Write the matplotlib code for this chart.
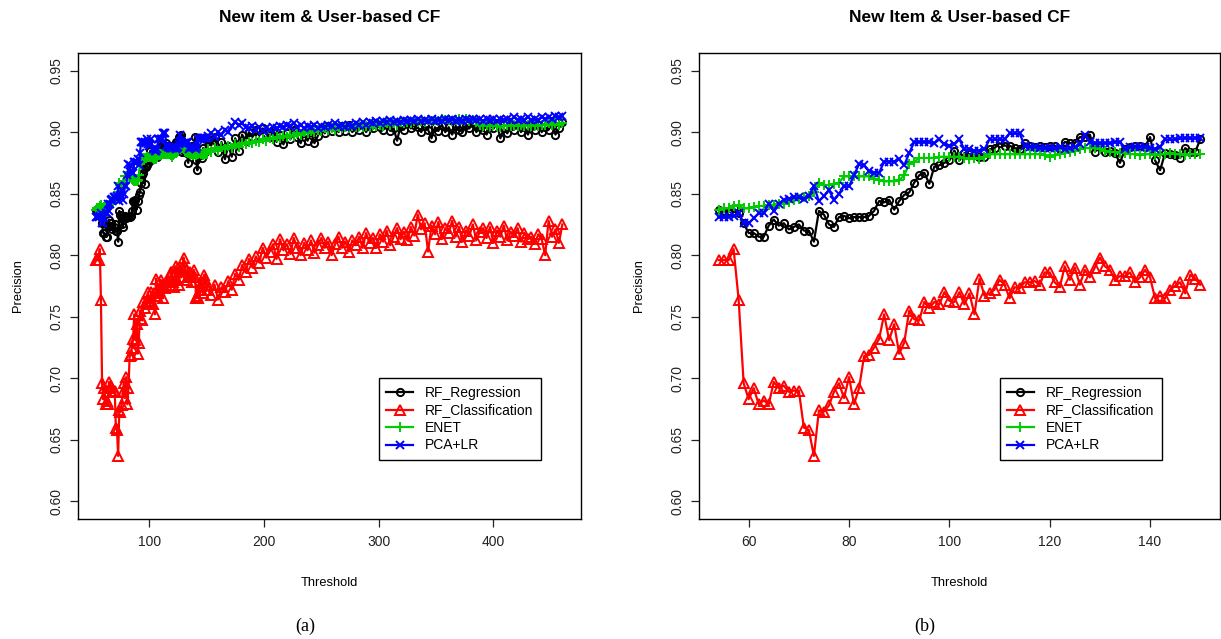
import matplotlib.pyplot as plt

plt.rcParams["font.family"] = ["Liberation Sans", "DejaVu Sans"]

# Thresholds 54..150, shared by both panels
thresholds = list(range(54, 151))

rf_regression = [
    0.837, 0.836, 0.836, 0.838, 0.834, 0.826, 0.818, 0.818, 0.815, 0.815,
    0.824, 0.829, 0.824, 0.826, 0.821, 0.823, 0.825, 0.820, 0.820, 0.811,
    0.836, 0.833, 0.825, 0.823, 0.831, 0.832, 0.830, 0.831, 0.831, 0.831,
    0.832, 0.836, 0.844, 0.843, 0.845, 0.837, 0.844, 0.849, 0.851, 0.859,
    0.865, 0.867, 0.858, 0.872, 0.873, 0.875, 0.877, 0.885, 0.877, 0.883,
    0.882, 0.881, 0.880, 0.880, 0.886, 0.887, 0.891, 0.889, 0.889, 0.887,
    0.886, 0.891, 0.889, 0.888, 0.889, 0.888, 0.889, 0.889, 0.886, 0.892,
    0.891, 0.891, 0.896, 0.896, 0.898, 0.884, 0.888, 0.884, 0.885, 0.883,
    0.875, 0.886, 0.888, 0.889, 0.889, 0.888, 0.896, 0.877, 0.869, 0.883,
    0.882, 0.881, 0.879, 0.887, 0.884, 0.884, 0.894,
]
rf_classification = [
    0.796, 0.796, 0.796, 0.805, 0.764, 0.696, 0.683, 0.692, 0.679, 0.682,
    0.679, 0.697, 0.692, 0.694, 0.689, 0.690, 0.690, 0.660, 0.658, 0.637,
    0.674, 0.673, 0.678, 0.689, 0.696, 0.684, 0.701, 0.679, 0.692, 0.718,
    0.719, 0.725, 0.732, 0.752, 0.731, 0.744, 0.720, 0.729, 0.755, 0.748,
    0.747, 0.762, 0.757, 0.762, 0.760, 0.770, 0.763, 0.762, 0.770, 0.760,
    0.769, 0.752, 0.781, 0.767, 0.769, 0.772, 0.780, 0.776, 0.765, 0.774,
    0.773, 0.778, 0.778, 0.779, 0.776, 0.786, 0.786, 0.778, 0.774, 0.791,
    0.780, 0.790, 0.776, 0.788, 0.782, 0.790, 0.798, 0.791, 0.788, 0.780,
    0.783, 0.783, 0.786, 0.778, 0.782, 0.788, 0.782, 0.765, 0.767, 0.765,
    0.772, 0.775, 0.778, 0.769, 0.784, 0.781, 0.776,
]
enet = [
    0.837, 0.838, 0.838, 0.840, 0.841, 0.838, 0.838, 0.839, 0.840, 0.840,
    0.841, 0.841, 0.842, 0.842, 0.843, 0.845, 0.846, 0.847, 0.848, 0.851,
    0.859, 0.857, 0.857, 0.858, 0.859, 0.864, 0.864, 0.864, 0.864, 0.864,
    0.864, 0.862, 0.861, 0.860, 0.860, 0.860, 0.861, 0.865, 0.874, 0.876,
    0.879, 0.879, 0.879, 0.879, 0.880, 0.880, 0.880, 0.880, 0.880, 0.879,
    0.878, 0.879, 0.878, 0.880, 0.882, 0.882, 0.882, 0.882, 0.882, 0.882,
    0.882, 0.882, 0.882, 0.882, 0.882, 0.881, 0.880, 0.881, 0.882, 0.883,
    0.884, 0.885, 0.886, 0.887, 0.887, 0.887, 0.886, 0.885, 0.884, 0.884,
    0.883, 0.883, 0.882, 0.882, 0.881, 0.882, 0.882, 0.881, 0.882, 0.882,
    0.883, 0.882, 0.882, 0.881, 0.882, 0.882, 0.882,
]
pca_lr = [
    0.831, 0.831, 0.831, 0.832, 0.834, 0.826, 0.826, 0.830, 0.834, 0.834,
    0.842, 0.836, 0.842, 0.845, 0.846, 0.847, 0.847, 0.846, 0.848, 0.856,
    0.844, 0.848, 0.853, 0.845, 0.850, 0.856, 0.856, 0.865, 0.874, 0.873,
    0.868, 0.867, 0.867, 0.876, 0.876, 0.876, 0.878, 0.873, 0.883, 0.892,
    0.892, 0.892, 0.892, 0.891, 0.894, 0.890, 0.889, 0.890, 0.894, 0.886,
    0.886, 0.885, 0.885, 0.886, 0.894, 0.894, 0.894, 0.894, 0.899, 0.899,
    0.899, 0.889, 0.888, 0.888, 0.887, 0.887, 0.887, 0.887, 0.888, 0.886,
    0.887, 0.888, 0.890, 0.898, 0.892, 0.891, 0.891, 0.891, 0.891, 0.892,
    0.892, 0.886, 0.888, 0.888, 0.888, 0.888, 0.887, 0.886, 0.888, 0.894,
    0.894, 0.894, 0.895, 0.895, 0.895, 0.895, 0.895,
]

# Extra thresholds only used in the "New item" panel
thresholds_tail = list(range(151, 461, 3))

rf_regression_tail = [
    0.893, 0.889, 0.896, 0.884, 0.892, 0.878, 0.889, 0.880,
    0.895, 0.885, 0.898, 0.893, 0.900, 0.896, 0.902, 0.897,
    0.903, 0.899, 0.896, 0.902, 0.892, 0.898, 0.890, 0.899,
    0.894, 0.902, 0.896, 0.891, 0.899, 0.893, 0.900, 0.891,
    0.897, 0.903, 0.899, 0.905, 0.901, 0.904, 0.900, 0.905,
    0.901, 0.906, 0.900, 0.904, 0.902, 0.906, 0.900, 0.905,
    0.903, 0.907, 0.904, 0.902, 0.906, 0.901, 0.903, 0.893,
    0.905, 0.902, 0.907, 0.903, 0.906, 0.904, 0.900, 0.905,
    0.902, 0.895, 0.904, 0.901, 0.906, 0.900, 0.904, 0.898,
    0.905, 0.902, 0.900, 0.906, 0.903, 0.907, 0.900, 0.904,
    0.902, 0.898, 0.905, 0.903, 0.907, 0.895, 0.903, 0.899,
    0.905, 0.902, 0.906, 0.900, 0.904, 0.898, 0.905, 0.902,
    0.906, 0.900, 0.904, 0.902, 0.907, 0.898, 0.903, 0.908,
]
rf_classification_tail = [
    0.772, 0.768, 0.776, 0.764, 0.774, 0.770, 0.779, 0.772,
    0.785, 0.780, 0.792, 0.786, 0.797, 0.790, 0.799, 0.794,
    0.806, 0.798, 0.803, 0.809, 0.797, 0.813, 0.804, 0.809,
    0.801, 0.814, 0.806, 0.800, 0.810, 0.804, 0.812, 0.802,
    0.808, 0.814, 0.806, 0.811, 0.800, 0.809, 0.815, 0.806,
    0.811, 0.803, 0.812, 0.808, 0.815, 0.806, 0.818, 0.810,
    0.814, 0.806, 0.817, 0.811, 0.820, 0.808, 0.815, 0.822,
    0.813, 0.819, 0.812, 0.823, 0.816, 0.833, 0.821, 0.826,
    0.803, 0.824, 0.817, 0.827, 0.813, 0.822, 0.818, 0.828,
    0.815, 0.823, 0.811, 0.820, 0.816, 0.825, 0.812, 0.819,
    0.822, 0.814, 0.823, 0.810, 0.820, 0.815, 0.824, 0.812,
    0.819, 0.816, 0.822, 0.811, 0.818, 0.813, 0.815, 0.809,
    0.817, 0.813, 0.800, 0.828, 0.815, 0.821, 0.810, 0.825,
]
enet_tail = [
    0.886, 0.884, 0.887, 0.885, 0.888, 0.886, 0.889, 0.887,
    0.890, 0.888, 0.891, 0.890, 0.892, 0.891, 0.893, 0.892,
    0.894, 0.893, 0.895, 0.894, 0.896, 0.895, 0.897, 0.896,
    0.898, 0.897, 0.899, 0.898, 0.900, 0.899, 0.901, 0.900,
    0.902, 0.901, 0.903, 0.902, 0.903, 0.902, 0.904, 0.903,
    0.904, 0.903, 0.905, 0.904, 0.905, 0.904, 0.905, 0.904,
    0.906, 0.905, 0.906, 0.905, 0.907, 0.906, 0.907, 0.906,
    0.908, 0.907, 0.908, 0.907, 0.909, 0.908, 0.909, 0.908,
    0.910, 0.909, 0.910, 0.909, 0.911, 0.910, 0.910, 0.909,
    0.910, 0.911, 0.910, 0.911, 0.909, 0.910, 0.908, 0.906,
    0.905, 0.906, 0.905, 0.906, 0.905, 0.904, 0.905, 0.906,
    0.905, 0.906, 0.905, 0.906, 0.905, 0.906, 0.905, 0.906,
    0.905, 0.906, 0.906, 0.907, 0.906, 0.907, 0.906, 0.907,
]
pca_lr_tail = [
    0.897, 0.899, 0.896, 0.900, 0.898, 0.902, 0.900, 0.905,
    0.908, 0.906, 0.907, 0.904, 0.903, 0.905, 0.902, 0.904,
    0.901, 0.903, 0.902, 0.904, 0.903, 0.905, 0.904, 0.906,
    0.905, 0.907, 0.904, 0.906, 0.903, 0.905, 0.904, 0.906,
    0.903, 0.905, 0.904, 0.906, 0.905, 0.907, 0.905, 0.906,
    0.904, 0.906, 0.905, 0.907, 0.906, 0.908, 0.906, 0.908,
    0.907, 0.909, 0.907, 0.909, 0.908, 0.910, 0.908, 0.909,
    0.908, 0.910, 0.909, 0.910, 0.909, 0.911, 0.909, 0.910,
    0.909, 0.911, 0.909, 0.910, 0.909, 0.911, 0.910, 0.911,
    0.909, 0.910, 0.909, 0.911, 0.910, 0.911, 0.910, 0.911,
    0.909, 0.911, 0.910, 0.911, 0.909, 0.911, 0.910, 0.911,
    0.910, 0.912, 0.910, 0.911, 0.910, 0.912, 0.910, 0.911,
    0.910, 0.912, 0.911, 0.912, 0.911, 0.913, 0.912, 0.913,
]

labels = ["RF_Regression", "RF_Classification", "ENET", "PCA+LR"]
colors = ["black", "#ff0000", "#00cd00", "#0000ff"]
markers = ["o", "^", "+", "x"]
marker_sizes = [5.2, 6.8, 7.5, 6.2]
y_ticks = [0.60, 0.65, 0.70, 0.75, 0.80, 0.85, 0.90, 0.95]

W, H = 1221, 639


def r_limits(lo, hi):
    pad = 0.04 * (hi - lo)
    return lo - pad, hi + pad


def draw_panel(ax, xs, series, title, x_ticks, legend_at):
    for ys, label, color, marker, ms in zip(series, labels, colors, markers,
                                            marker_sizes):
        ax.plot(
            xs, ys, color=color, lw=1.6, marker=marker, markersize=ms,
            markeredgewidth=1.4, markerfacecolor="none", label=label,
        )
    ax.set_xlim(*r_limits(min(xs), max(xs)))
    ax.set_ylim(*r_limits(0.60, 0.95))
    ax.set_xticks(x_ticks)
    ax.set_yticks(y_ticks)
    ax.set_yticklabels([f"{v:.2f}" for v in y_ticks], rotation=90, va="center")
    ax.tick_params(direction="out", length=5.5, width=0.9, labelsize=10,
                   colors="#222222")
    ax.tick_params(axis="x", pad=6)
    ax.tick_params(axis="y", pad=5)
    for spine in ax.spines.values():
        spine.set_linewidth(1.0)
    ax.legend(
        loc="upper left", bbox_to_anchor=legend_at, bbox_transform=ax.transData,
        numpoints=1, fontsize=10, frameon=True, fancybox=False,
        edgecolor="black", framealpha=1, borderpad=0.55, labelspacing=0.25,
        handlelength=1.9, handletextpad=0.9, borderaxespad=0,
    ).get_frame().set_linewidth(1.0)

    box = ax.get_position()
    cx = box.x0 + box.width / 2
    fig.text(cx, 1 - 18 / H, title, ha="center", va="center",
             fontsize=12.5, fontweight="bold")
    fig.text(cx, 1 - 583 / H, "Threshold", ha="center", va="center",
             fontsize=9.3)
    fig.text(box.x0 - 60 / W, box.y0 + box.height / 2, "Precision",
             rotation=90, ha="center", va="center", fontsize=9.3)


fig = plt.figure(figsize=(W / 100, H / 100), dpi=100)
ax_a = fig.add_axes([77.7 / W, 1 - 518.7 / H, 503.3 / W, 465.4 / H])
ax_b = fig.add_axes([699.3 / W, 1 - 518.7 / H, 520.2 / W, 465.4 / H])

draw_panel(
    ax_a,
    thresholds + thresholds_tail,
    [rf_regression + rf_regression_tail,
     rf_classification + rf_classification_tail,
     enet + enet_tail,
     pca_lr + pca_lr_tail],
    "New item & User-based CF",
    [100, 200, 300, 400],
    (300, 0.70),
)
draw_panel(
    ax_b,
    thresholds,
    [rf_regression, rf_classification, enet, pca_lr],
    "New Item & User-based CF",
    [60, 80, 100, 120, 140],
    (110, 0.70),
)

fig.text(305 / W, 1 - 626 / H, "(a)", ha="center", va="center",
         fontsize=13, family="Liberation Serif")
fig.text(925 / W, 1 - 626 / H, "(b)", ha="center", va="center",
         fontsize=13, family="Liberation Serif")

fig.savefig("out.png", dpi=100)
